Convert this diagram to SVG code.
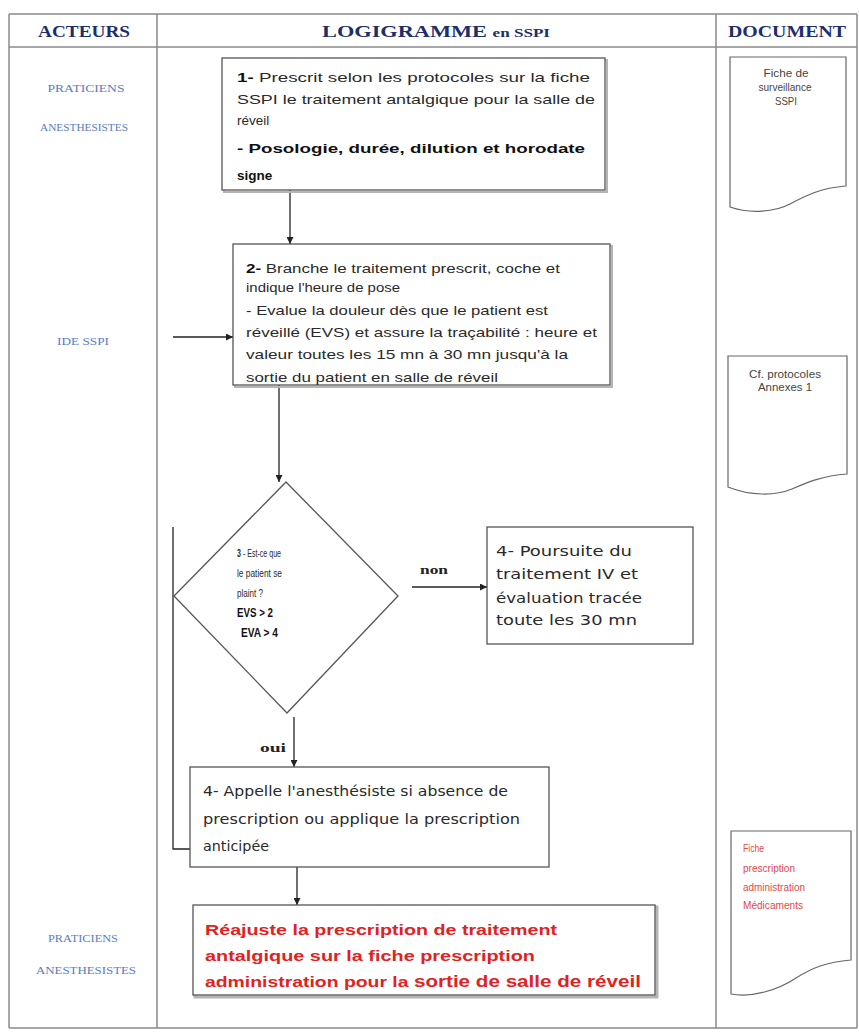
<svg xmlns="http://www.w3.org/2000/svg" width="859" height="1034" viewBox="0 0 859 1034">
<style>
.grid{stroke:#8a8a8a;stroke-width:1.5;fill:none}
.hdr{font-family:"Liberation Serif",serif;font-weight:bold;font-size:17px;fill:#1c2f6b}
.act{font-family:"Liberation Serif",serif;font-size:10px;fill:#5b7cc4;text-anchor:middle}
.box{fill:#fff;stroke:#555;stroke-width:1.3}
.shadow{fill:none;stroke:#b5b5b5;stroke-width:2}
.t{font-family:"Liberation Sans",sans-serif;font-size:13.5px;fill:#2a2a2a}
.tb{font-weight:bold;fill:#111}
.v{font-family:"DejaVu Sans",sans-serif;font-size:14px;fill:#2a2a2a}
.d{font-family:"Liberation Sans",sans-serif;font-size:10.5px;fill:#2a2a2a}
.db{font-family:"Liberation Sans",sans-serif;font-size:12px;font-weight:bold;fill:#111}
.red{font-family:"Liberation Sans",sans-serif;font-weight:bold;font-size:15.5px;fill:#e02222}
.doc{fill:#fff;stroke:#666;stroke-width:1.2}
.dt{font-family:"Liberation Sans",sans-serif;font-size:10.5px;fill:#444;text-anchor:middle}
.dr{font-family:"Liberation Sans",sans-serif;font-size:10.5px;fill:#e04848}
.lbl{font-family:"Liberation Serif",serif;font-weight:bold;font-size:13px;fill:#222}
.c{stroke:#222;stroke-width:1.3;fill:none}
</style>
<defs>
<marker id="ah" viewBox="0 0 10 10" refX="10" refY="5" markerWidth="7" markerHeight="7" orient="auto" markerUnits="userSpaceOnUse"><path d="M0,0 L10,5 L0,10 z" fill="#222"/></marker>
</defs>
<rect width="859" height="1034" fill="#fff"/>
<g id="table">
<line class="grid" x1="9" y1="14" x2="857" y2="14"/>
<line class="grid" x1="9" y1="47" x2="857" y2="47"/>
<line class="grid" x1="9" y1="14" x2="9" y2="1028"/>
<line class="grid" x1="157" y1="14" x2="157" y2="1028"/>
<line class="grid" x1="716" y1="14" x2="716" y2="1028"/>
<line class="grid" x1="857" y1="14" x2="857" y2="1028"/>
<line class="grid" x1="9" y1="1028" x2="857" y2="1028"/>
<text class="hdr" x="84" y="37" text-anchor="middle" textLength="92" lengthAdjust="spacingAndGlyphs">ACTEURS</text>
<text class="hdr" x="322" y="37" textLength="228" lengthAdjust="spacingAndGlyphs">LOGIGRAMME <tspan style="font-size:13px">en SSPI</tspan></text>
<text class="hdr" x="787" y="37" text-anchor="middle" textLength="118" lengthAdjust="spacingAndGlyphs">DOCUMENT</text>
</g>
<g id="acteurs">
<text class="act" x="86" y="92" textLength="77" lengthAdjust="spacingAndGlyphs">PRATICIENS</text>
<text class="act" x="84" y="131" textLength="88" lengthAdjust="spacingAndGlyphs">ANESTHESISTES</text>
<text class="act" x="83" y="345" textLength="52" lengthAdjust="spacingAndGlyphs">IDE SSPI</text>
<text class="act" x="83" y="942" textLength="70" lengthAdjust="spacingAndGlyphs">PRATICIENS</text>
<text class="act" x="86" y="974" textLength="100" lengthAdjust="spacingAndGlyphs">ANESTHESISTES</text>
</g>
<g id="connectors">
<line class="c" x1="290" y1="190" x2="290" y2="244" marker-end="url(#ah)"/>
<line class="c" x1="173" y1="337" x2="233" y2="337" marker-end="url(#ah)"/>
<line class="c" x1="279" y1="385" x2="279" y2="482" marker-end="url(#ah)"/>
<line class="c" x1="412" y1="587" x2="487" y2="587" marker-end="url(#ah)"/>
<line class="c" x1="294" y1="717" x2="294" y2="767" marker-end="url(#ah)"/>
<polyline class="c" points="173,527 173,849 190,849"/>
<line class="c" x1="297" y1="867" x2="297" y2="905" marker-end="url(#ah)"/>
<text class="lbl" x="420" y="574" textLength="28" lengthAdjust="spacingAndGlyphs">non</text>
<text class="lbl" x="260" y="752" textLength="26" lengthAdjust="spacingAndGlyphs">oui</text>
</g>
<g id="n1">
<rect class="shadow" x="224" y="60" width="383" height="132"/>
<rect class="box" x="222" y="58" width="383" height="132"/>
<text class="t" x="237" y="82" textLength="353" lengthAdjust="spacingAndGlyphs"><tspan class="tb">1-</tspan> Prescrit selon les protocoles  sur la fiche</text>
<text class="t" x="237" y="104" textLength="358" lengthAdjust="spacingAndGlyphs">SSPI  le traitement  antalgique pour la salle de</text>
<text class="t" x="237" y="125">réveil</text>
<text class="t tb" x="237" y="153" textLength="348" lengthAdjust="spacingAndGlyphs">- Posologie, durée, dilution  et  horodate</text>
<text class="t tb" x="237" y="180">signe</text>
</g>
<g id="n2">
<rect class="shadow" x="235" y="246" width="377" height="141"/>
<rect class="box" x="233" y="244" width="377" height="141"/>
<text class="t" x="246" y="273" textLength="314" lengthAdjust="spacingAndGlyphs"><tspan class="tb">2-</tspan> Branche le traitement prescrit, coche et</text>
<text class="t" x="246" y="292" textLength="154" lengthAdjust="spacingAndGlyphs">indique l'heure de pose</text>
<text class="t" x="246" y="315" textLength="302" lengthAdjust="spacingAndGlyphs">- Evalue la douleur dès que le patient est</text>
<text class="t" x="246" y="337" textLength="351" lengthAdjust="spacingAndGlyphs">réveillé (EVS) et assure la  traçabilité : heure et</text>
<text class="t" x="246" y="359" textLength="322" lengthAdjust="spacingAndGlyphs">valeur toutes les 15 mn à 30 mn  jusqu'à la</text>
<text class="t" x="246" y="382" textLength="252" lengthAdjust="spacingAndGlyphs">sortie du patient en salle de réveil</text>
</g>
<g id="n3">
<polygon class="box" points="286,482 398,596 287,713 174,596"/>
<text class="d" x="237" y="557" textLength="44" lengthAdjust="spacingAndGlyphs"><tspan style="font-weight:bold">3</tspan> - Est-ce que</text>
<text class="d" x="237" y="577" textLength="45" lengthAdjust="spacingAndGlyphs">le patient se</text>
<text class="d" x="237" y="597" textLength="26" lengthAdjust="spacingAndGlyphs">plaint ?</text>
<text class="db" x="237" y="617" textLength="36" lengthAdjust="spacingAndGlyphs">EVS &gt;  2</text>
<text class="db" x="241" y="637" textLength="37" lengthAdjust="spacingAndGlyphs">EVA &gt; 4</text>
</g>
<g id="n4a">
<rect class="box" x="487" y="527" width="206" height="117"/>
<text class="v" x="496" y="556" textLength="136" lengthAdjust="spacingAndGlyphs">4- Poursuite du</text>
<text class="v" x="496" y="579" textLength="142" lengthAdjust="spacingAndGlyphs">traitement IV et</text>
<text class="v" x="496" y="603" textLength="146" lengthAdjust="spacingAndGlyphs">évaluation tracée</text>
<text class="v" x="496" y="625" textLength="141" lengthAdjust="spacingAndGlyphs">toute les 30 mn</text>
</g>
<g id="n4b">
<rect class="box" x="190" y="767" width="359" height="100"/>
<text class="v" x="203" y="796" textLength="305" lengthAdjust="spacingAndGlyphs">4- Appelle l'anesthésiste si absence de</text>
<text class="v" x="203" y="824" textLength="317" lengthAdjust="spacingAndGlyphs">prescription ou applique la prescription</text>
<text class="v" x="203" y="851" textLength="66" lengthAdjust="spacingAndGlyphs">anticipée</text>
</g>
<g id="n5">
<rect class="shadow" x="195" y="907" width="462" height="90" style="stroke-width:3"/>
<rect class="box" x="193" y="905" width="462" height="90"/>
<text class="red" x="205" y="935" textLength="352" lengthAdjust="spacingAndGlyphs">Réajuste la prescription de traitement</text>
<text class="red" x="205" y="961" textLength="330" lengthAdjust="spacingAndGlyphs">antalgique sur la fiche  prescription</text>
<text class="red" x="205" y="987" textLength="436" lengthAdjust="spacingAndGlyphs">administration   pour la <tspan style="font-size:16.5px">sortie de salle de réveil</tspan></text>
</g>
<g id="doc1">
<path class="doc" d="M730,57 L846,57 L846,186 C820,188 805,196 790,204 C775,212 750,214 730,207 Z"/>
<text class="dt" x="786" y="77" textLength="45" lengthAdjust="spacingAndGlyphs">Fiche de</text>
<text class="dt" x="785" y="91" textLength="53" lengthAdjust="spacingAndGlyphs">surveillance</text>
<text class="dt" x="786" y="105" textLength="22" lengthAdjust="spacingAndGlyphs">SSPI</text>
</g>
<g id="doc2">
<path class="doc" d="M728,356 L847,356 L847,474 C822,476 808,482 792,489 C775,496 750,496 728,487 Z"/>
<text class="dt" x="785" y="378" textLength="72" lengthAdjust="spacingAndGlyphs">Cf. protocoles</text>
<text class="dt" x="785" y="391" textLength="54" lengthAdjust="spacingAndGlyphs">Annexes 1</text>
</g>
<g id="doc3">
<path class="doc" d="M731,831 L851,831 L851,960 C826,962 812,968 796,978 C778,990 752,998 731,994 Z"/>
<text class="dr" x="743" y="852" textLength="21" lengthAdjust="spacingAndGlyphs">Fiche</text>
<text class="dr" x="743" y="872" textLength="52" lengthAdjust="spacingAndGlyphs">prescription</text>
<text class="dr" x="743" y="891" textLength="62" lengthAdjust="spacingAndGlyphs">administration</text>
<text class="dr" x="743" y="909" textLength="60" lengthAdjust="spacingAndGlyphs">Médicaments</text>
</g>
</svg>
